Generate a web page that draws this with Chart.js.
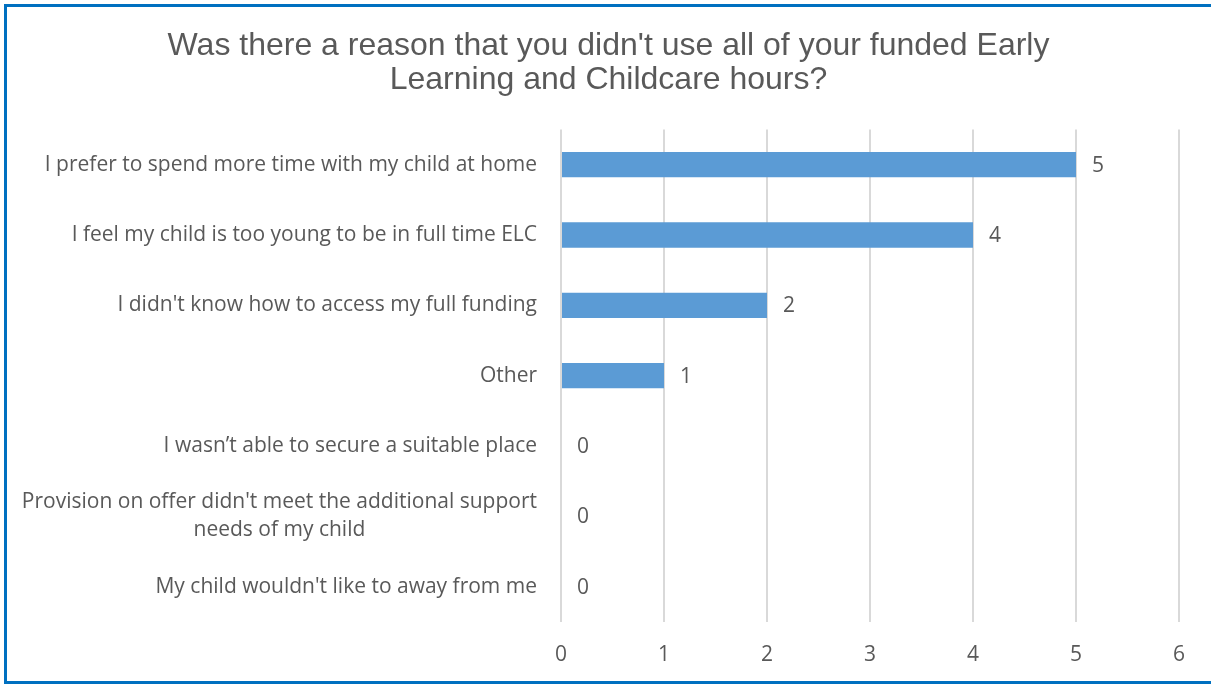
<!DOCTYPE html>
<html>
<head>
<meta charset="utf-8">
<script src="https://cdn.jsdelivr.net/npm/chart.js@4"></script>
<style>
  body { margin: 0; background: #fff; }
  #wrap { position: relative; width: 1211px; height: 684px; overflow: hidden; }
  #frame {
    position: absolute; left: 4px; top: 4px; width: 1220px; height: 674px;
    border: 3px solid #0070c0; border-right: none; box-sizing: content-box;
  }
  canvas { position: absolute; left: 0; top: 0; }
</style>
</head>
<body>
<div id="wrap">
  <div id="frame"></div>
  <canvas id="chart" width="1211" height="684"></canvas>
</div>
<script>
const reasons = [
  "I prefer to spend more time with my child at home",
  "I feel my child is too young to be in full time ELC",
  "I didn't know how to access my full funding",
  "Other",
  "I wasn\u2019t able to secure a suitable place",
  ["Provision on offer didn't meet the additional support", "needs of my child"],
  "My child wouldn't like to away from me"
];
const counts = [5, 4, 2, 1, 0, 0, 0];
const axisTicks = [0, 1, 2, 3, 4, 5, 6];

const labelFamily = '"Open Sans", "Noto Sans", sans-serif';
const labelSize = 21;
const textGray = '#595959';

// draws the category names (multi-line ones centred on their widest line) and the value labels
const labelsPlugin = {
  id: 'labels',
  afterDraw(chart) {
    const ctx = chart.ctx;
    const y = chart.scales.y;
    const x = chart.scales.x;
    ctx.save();
    ctx.font = labelSize + 'px ' + labelFamily;
    ctx.fillStyle = textGray;
    ctx.textBaseline = 'middle';
    const right = x.left - 24;
    reasons.forEach((lab, i) => {
      const cy = y.getPixelForValue(i);
      if (Array.isArray(lab)) {
        const w = Math.max(...lab.map(l => ctx.measureText(l).width));
        const lh = 28;
        ctx.textAlign = 'center';
        lab.forEach((l, j) => {
          ctx.fillText(l, right - w / 2, cy + (j - (lab.length - 1) / 2) * lh);
        });
      } else {
        ctx.textAlign = 'right';
        ctx.fillText(lab, right, cy);
      }
    });
    ctx.textAlign = 'left';
    counts.forEach((v, i) => {
      ctx.fillText(String(v), x.getPixelForValue(v) + 16, y.getPixelForValue(i) + 1);
    });
    ctx.restore();
  }
};

new Chart(document.getElementById('chart'), {
  type: 'bar',
  data: {
    labels: reasons,
    datasets: [{
      data: counts,
      backgroundColor: '#5b9bd5',
      borderWidth: 0,
      barPercentage: 0.36,
      categoryPercentage: 1
    }]
  },
  options: {
    indexAxis: 'y',
    responsive: false,
    animation: false,
    layout: { padding: { left: 38, right: 32, top: 0, bottom: -5 } },
    plugins: {
      legend: { display: false },
      tooltip: { enabled: false },
      title: {
        display: true,
        text: ["Was there a reason that you didn't use all of your funded Early", "Learning and Childcare hours?"],
        color: textGray,
        font: { family: '"Liberation Sans", Arial, sans-serif', size: 32, weight: 'normal', lineHeight: 1.07 },
        padding: { top: 29, bottom: 32 }
      }
    },
    scales: {
      x: {
        min: 0,
        max: 6,
        afterBuildTicks(scale) { scale.ticks = axisTicks.map(v => ({ value: v })); },
        grid: { color: '#d9d9d9', lineWidth: 2, drawTicks: false },
        border: { display: false },
        ticks: { color: textGray, font: { family: labelFamily, size: labelSize }, padding: 21 }
      },
      y: {
        grid: { display: false },
        border: { display: false },
        ticks: { display: false },
        afterFit(scale) { scale.width = 523; }
      }
    }
  },
  plugins: [labelsPlugin]
});
</script>
</body>
</html>
